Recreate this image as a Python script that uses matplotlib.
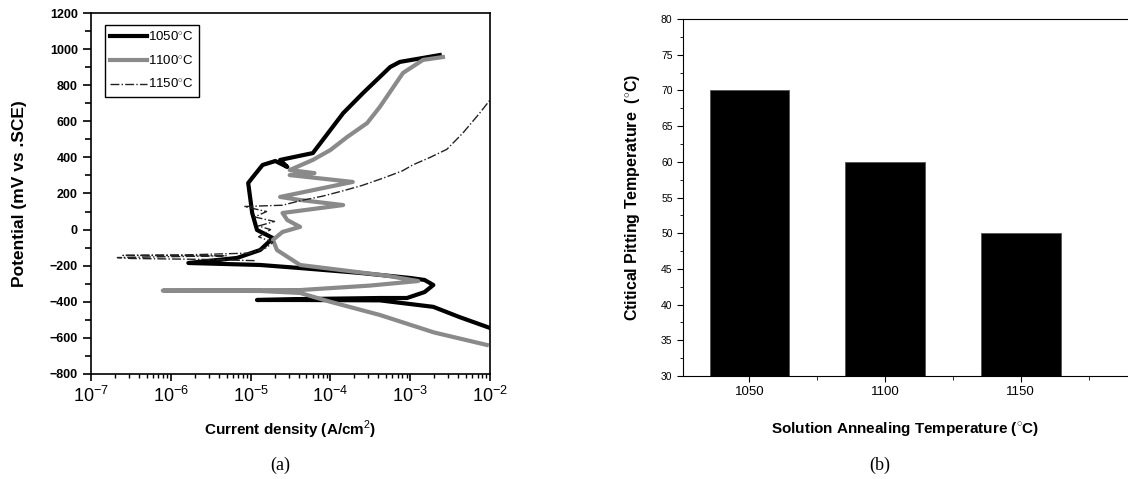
import numpy as np
import matplotlib
matplotlib.use('Agg')
import matplotlib.pyplot as plt
from matplotlib.ticker import MultipleLocator, LogLocator, NullFormatter, FixedLocator

plt.rcParams['font.family'] = ['Liberation Sans', 'DejaVu Sans']
plt.rcParams['mathtext.fontset'] = 'custom'
plt.rcParams['mathtext.rm'] = 'Liberation Sans'
plt.rcParams['mathtext.bf'] = 'Liberation Sans:bold'

# (a) polarisation curves: log10 of current density, potential in mV
logi_1050 = [-2.0, -2.38, -2.71, -3.38, -4.38, -4.92, -4.38, -3.38, -3.04, -2.82, -2.71,
             -2.82, -3.0, -3.63, -4.38, -4.88, -5.78, -5.17, -4.88, -4.72, -4.92, -4.98,
             -5.03, -4.97, -4.85, -4.69, -4.54, -4.63, -4.22, -4.0, -3.84, -3.59, -3.25,
             -3.13, -2.63]
pot_1050 = [-545, -485, -428, -392, -390, -390, -385, -379, -379, -346, -307,
            -279, -268, -240, -213, -196, -185, -157, -113, -47, -2, 92,
            258, 292, 358, 380, 347, 386, 424, 552, 645, 757, 901,
            929, 967]

logi_1100 = [-2.04, -2.7, -3.38, -4.0, -4.38, -4.88, -6.1, -5.2, -4.38, -3.5, -2.9,
             -3.3, -4.38, -4.67, -4.72, -4.6, -4.38, -4.54, -4.6, -3.84, -4.38, -4.63,
             -3.72, -4.51, -4.2, -4.51, -4.22, -4.0, -3.79, -3.54, -3.38, -3.09, -2.84,
             -2.59]
pot_1100 = [-639, -570, -473, -400, -351, -340, -338, -336, -335, -310, -285,
            -255, -196, -113, -57, -13, 15, 53, 92, 136, 164, 181,
            264, 302, 313, 330, 386, 441, 513, 590, 680, 868, 940,
            956]

logi_1150 = [-4.95, -5.6, -6.5, -6.67, -6.0, -5.3, -6.6, -5.8, -5.0, -4.8, -4.72,
             -4.9, -4.75, -4.9, -4.7, -4.95, -4.8, -5.08, -4.6, -4.38, -4.1, -3.84,
             -3.6, -3.34, -3.1, -2.96, -2.75, -2.54, -2.34, -2.13, -2.0]
pot_1150 = [-172, -165, -160, -155, -150, -145, -143, -140, -130, -100, -70,
            -40, 0, 20, 45, 70, 100, 128, 135, 160, 185, 215,
            245, 285, 325, 360, 400, 445, 535, 645, 718]

# (b) critical pitting temperature
anneal_temps = ['1050', '1100', '1150']
cpt_values = [70, 60, 50]

fig = plt.figure(figsize=(11.28, 4.79), dpi=100)

# ---- (a)
ax1 = fig.add_axes([91/1128, 1-374/479, 399/1128, 361/479])
ax1.plot(10**np.array(logi_1050), pot_1050, color='black', lw=3.0, label='1050$^{\\circ}$C')
ax1.plot(10**np.array(logi_1100), pot_1100, color='#8a8a8a', lw=3.0, label='1100$^{\\circ}$C')
ax1.plot(10**np.array(logi_1150), pot_1150, color='#222222', lw=1.0, ls='-.', label='1150$^{\\circ}$C')
ax1.set_xscale('log')
ax1.set_xlim(1e-7, 1e-2)
ax1.set_ylim(-800, 1200)
ax1.yaxis.set_major_locator(MultipleLocator(200))
ax1.yaxis.set_minor_locator(MultipleLocator(100))
ax1.xaxis.set_major_locator(LogLocator(base=10, numticks=10))
ax1.xaxis.set_minor_locator(LogLocator(base=10, subs=np.arange(2, 10), numticks=20))
ax1.xaxis.set_minor_formatter(NullFormatter())
ax1.tick_params(axis='both', which='both', direction='out')
ax1.tick_params(axis='y', which='major', length=6, width=1.2, labelsize=9)
ax1.tick_params(axis='y', which='minor', length=4, width=1.2)
ax1.tick_params(axis='x', which='major', length=5, width=1.2, labelsize=13)
ax1.tick_params(axis='x', which='minor', length=3, width=1.0)
for lab in ax1.get_yticklabels():
    lab.set_fontweight('bold')
for s in ax1.spines.values():
    s.set_linewidth(1.2)
ax1.set_ylabel('Potential (mV vs .SCE)', fontsize=12.5, fontweight='bold', labelpad=16)
ax1.set_xlabel('Current density (A/cm$^2$)', fontsize=11, fontweight='bold', labelpad=9)
leg = ax1.legend(loc='upper left', bbox_to_anchor=(0.018, 0.985), fontsize=9.5,
                 handlelength=2.8, handletextpad=0.1, labelspacing=0.75,
                 borderpad=0.4, fancybox=False, framealpha=1, edgecolor='black')
leg.get_frame().set_linewidth(1.0)

# ---- (b)
ax2 = fig.add_axes([683/1128, 1-376/479, 1-683/1128, 357/479])
xpos = np.arange(len(anneal_temps))
ax2.bar(xpos, cpt_values, width=0.585, color='black', edgecolor='#555555', linewidth=0.6)
ax2.set_ylim(30, 80)
ax2.set_xlim(-0.49, 2.79)
ax2.set_xticks(xpos, anneal_temps)
ax2.xaxis.set_minor_locator(FixedLocator([0.5, 1.5, 2.5]))
ax2.yaxis.set_major_locator(MultipleLocator(5))
ax2.yaxis.set_minor_locator(MultipleLocator(2.5))
ax2.tick_params(axis='both', which='both', direction='out')
ax2.tick_params(axis='y', which='major', length=4, labelsize=7.5)
ax2.tick_params(axis='y', which='minor', length=2.5)
ax2.tick_params(axis='x', which='major', length=4, labelsize=9.5)
ax2.tick_params(axis='x', which='minor', length=3)
ax2.spines['right'].set_visible(False)
ax2.set_ylabel('Ctitical Pitting Temperature  ($^{\\circ}$C)', fontsize=11.5, fontweight='bold', labelpad=14)
ax2.set_xlabel('Solution Annealing Temperature ($^{\\circ}$C)', fontsize=11, fontweight='bold', labelpad=16)

fig.text(280/1128, 1-465/479, '(a)', fontsize=13, family='Liberation Serif', ha='center', va='center')
fig.text(880/1128, 1-465/479, '(b)', fontsize=13, family='Liberation Serif', ha='center', va='center')

fig.savefig('out.png', dpi=100)
